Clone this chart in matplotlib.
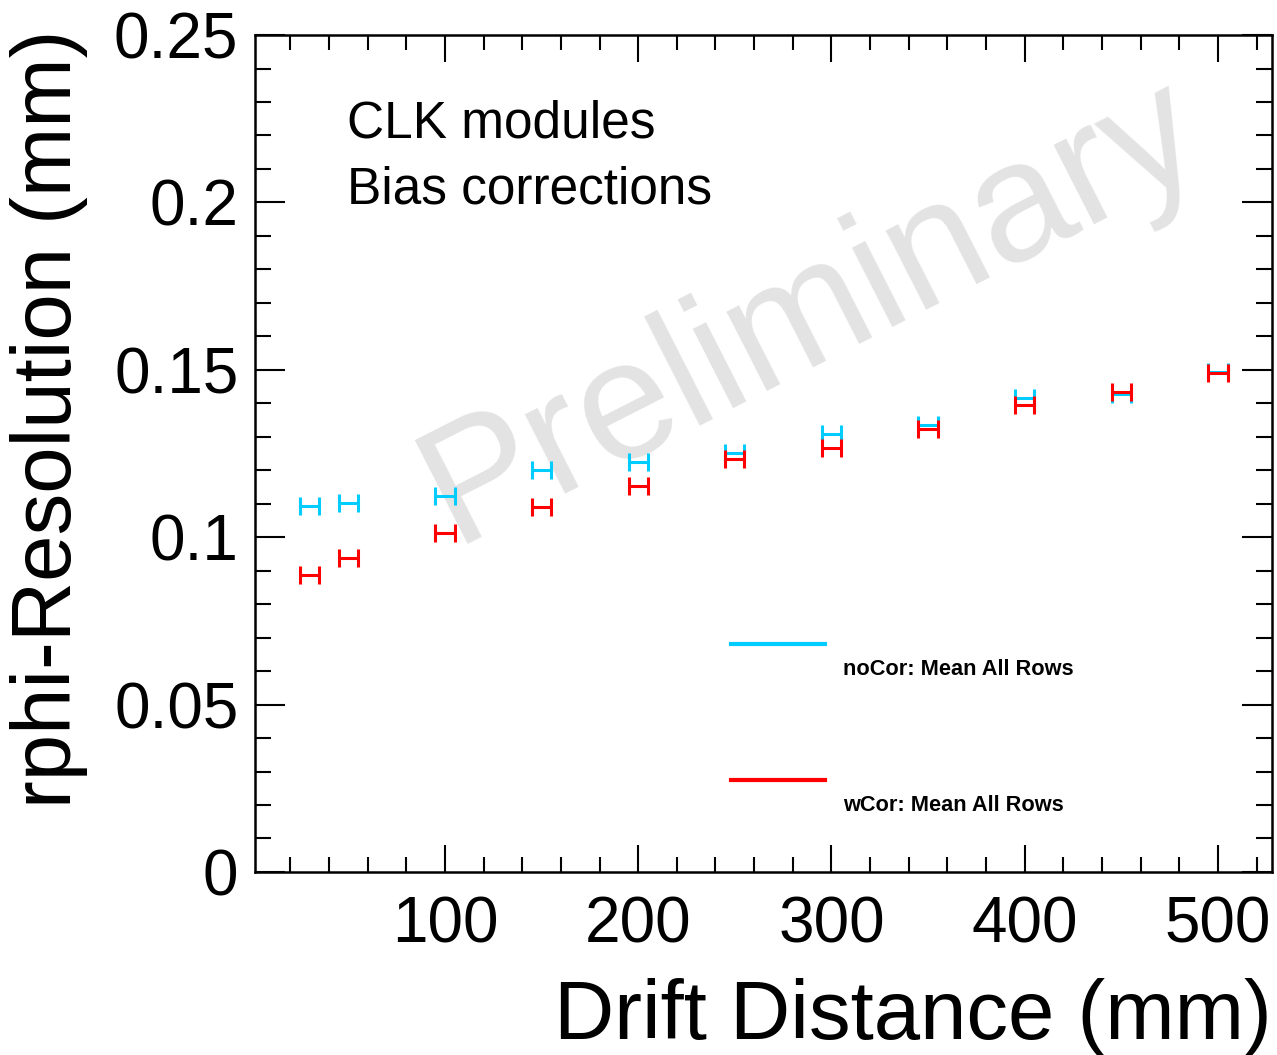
import numpy as np
import matplotlib
matplotlib.use("Agg")
import matplotlib.pyplot as plt
from matplotlib.ticker import MultipleLocator, FuncFormatter

plt.rcParams['font.family'] = ['Liberation Sans', 'DejaVu Sans']

# drift distance (mm) and resolution (mm)
drift = [30, 50, 100, 150, 200, 250, 300, 350, 400, 450, 500]
res_nocor = [0.1093, 0.1102, 0.1123, 0.1201, 0.1225, 0.1252, 0.1308, 0.1334, 0.1417, 0.1427, 0.1494]
res_wcor = [0.0887, 0.0938, 0.1013, 0.1090, 0.1153, 0.1234, 0.1265, 0.1324, 0.1395, 0.1433, 0.1490]
xerr = 5
labels = ["noCor: Mean All Rows", "wCor: Mean All Rows"]
colors = ["#00ccff", "#ff0000"]

fig = plt.figure(figsize=(12.77, 10.55), dpi=100)
ax = fig.add_axes([0.1997, 0.1735, 0.7964, 0.7933])

for y, c in zip([res_nocor, res_wcor], colors):
    ax.errorbar(drift, y, xerr=xerr, fmt='none', ecolor=c,
                elinewidth=2.2, capsize=6.8, capthick=2.2)

ax.set_xlim(1.7, 528)
ax.set_ylim(0, 0.25)

ax.xaxis.set_major_locator(MultipleLocator(100))
ax.xaxis.set_minor_locator(MultipleLocator(20))
ax.yaxis.set_major_locator(MultipleLocator(0.05))
ax.yaxis.set_minor_locator(MultipleLocator(0.01))
ax.yaxis.set_major_formatter(FuncFormatter(lambda v, p: "%g" % round(v, 3)))

ax.tick_params(which='both', direction='in', top=True, right=True, width=1.5)
ax.tick_params(axis='x', which='major', length=19.4, labelsize=46, pad=17)
ax.tick_params(axis='x', which='minor', length=10.8)
ax.tick_params(axis='y', which='major', length=21.6, labelsize=46, pad=12)
ax.tick_params(axis='y', which='minor', length=11.5)
for s in ax.spines.values():
    s.set_linewidth(1.8)

ax.set_xlabel("Drift Distance (mm)", fontsize=60, loc='right')
ax.xaxis.set_label_coords(1.0, -0.127)
ax.set_ylabel("rphi-Resolution (mm)", fontsize=60, loc='top')
ax.yaxis.set_label_coords(-0.164, 1.006)

ax.text(0.0905, 0.878, "CLK modules", transform=ax.transAxes, fontsize=37)
ax.text(0.0905, 0.799, "Bias corrections", transform=ax.transAxes, fontsize=37)

# watermark
ax.text(0.547, 0.668, "Preliminary", transform=ax.transAxes, fontsize=122,
        color="#e3e3e3", rotation=27, ha='center', va='center',
        rotation_mode='anchor', zorder=0)

# legend, ROOT style
for ly, ty, lab, c in zip([0.2724, 0.110], [0.2354, 0.0729], labels, colors):
    ax.plot([0.468, 0.560], [ly, ly], color=c, lw=3, transform=ax.transAxes)
    ax.text(0.578, ty, lab, transform=ax.transAxes, fontsize=15.7,
            fontweight='bold')

fig.savefig("out.png", dpi=100)
